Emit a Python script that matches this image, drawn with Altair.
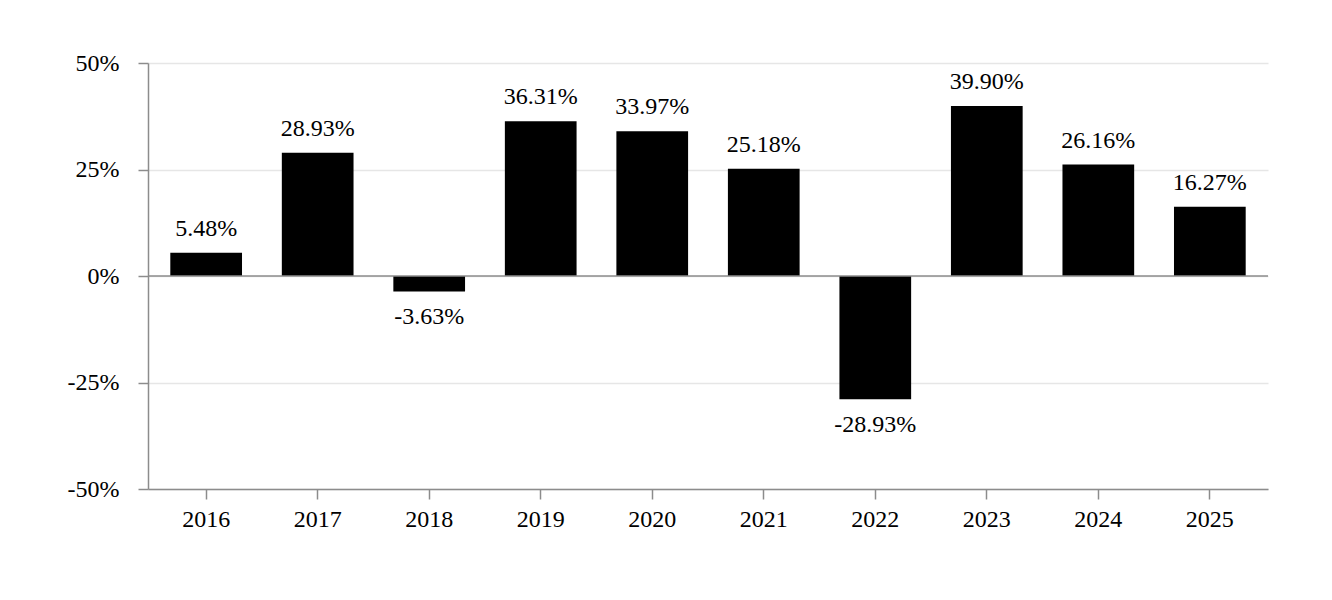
import altair as alt
import pandas as pd

years = ["2016", "2017", "2018", "2019", "2020", "2021", "2022", "2023", "2024", "2025"]
returns = [5.48, 28.93, -3.63, 36.31, 33.97, 25.18, -28.93, 39.90, 26.16, 16.27]

df = pd.DataFrame({"year": years, "ret": returns})
df["label"] = [f"{v:.2f}%" for v in returns]

FONT = "Liberation Serif"
FS = 24

x = alt.X(
    "year:N",
    sort=years,
    title=None,
    scale=alt.Scale(paddingInner=0.357, paddingOuter=0.2),
    axis=alt.Axis(
        labelAngle=0, labelFont=FONT, labelFontSize=FS, labelColor="black",
        domainColor="#8c8c8c", tickColor="#8c8c8c", tickSize=10, labelPadding=8,
        domainWidth=1.5, tickWidth=1.5, grid=False,
    ),
)
y = alt.Y(
    "ret:Q",
    title=None,
    scale=alt.Scale(domain=[-50, 50], nice=False),
    axis=alt.Axis(
        values=[-50, -25, 0, 25, 50], labelExpr="datum.value + '%'",
        labelFont=FONT, labelFontSize=FS, labelColor="black",
        domainColor="#8c8c8c", tickColor="#8c8c8c", tickSize=10, labelPadding=19,
        domainWidth=1.5, tickWidth=1.5,
        gridColor="#e6e6e6", gridWidth=1.5,
    ),
)

bars = alt.Chart(df).mark_bar(color="black").encode(x=x, y=y, y2=alt.datum(0))

zero = alt.Chart(pd.DataFrame({"z": [0]})).mark_rule(color="#8c8c8c", strokeWidth=1.5).encode(y="z:Q")

pos = alt.Chart(df).transform_filter("datum.ret >= 0").mark_text(
    font=FONT, fontSize=FS, color="black", baseline="bottom", dy=-12
).encode(x=alt.X("year:N", sort=years), y="ret:Q", text="label:N")

neg = alt.Chart(df).transform_filter("datum.ret < 0").mark_text(
    font=FONT, fontSize=FS, color="black", baseline="top", dy=14
).encode(x=alt.X("year:N", sort=years), y="ret:Q", text="label:N")

chart = (
    alt.layer(bars, zero, pos, neg)
    .properties(
        width=1120, height=426,
        view=alt.ViewBackground(stroke="transparent", strokeWidth=0),
        autosize=alt.AutoSizeParams(type="none"),
        padding={"left": 148, "top": 63, "right": 64, "bottom": 111},
    )
    .configure_view(stroke="transparent", strokeWidth=0)
    .configure(background="white")
)

chart.save("out.html", embed_options={"renderer": "svg", "actions": False})
